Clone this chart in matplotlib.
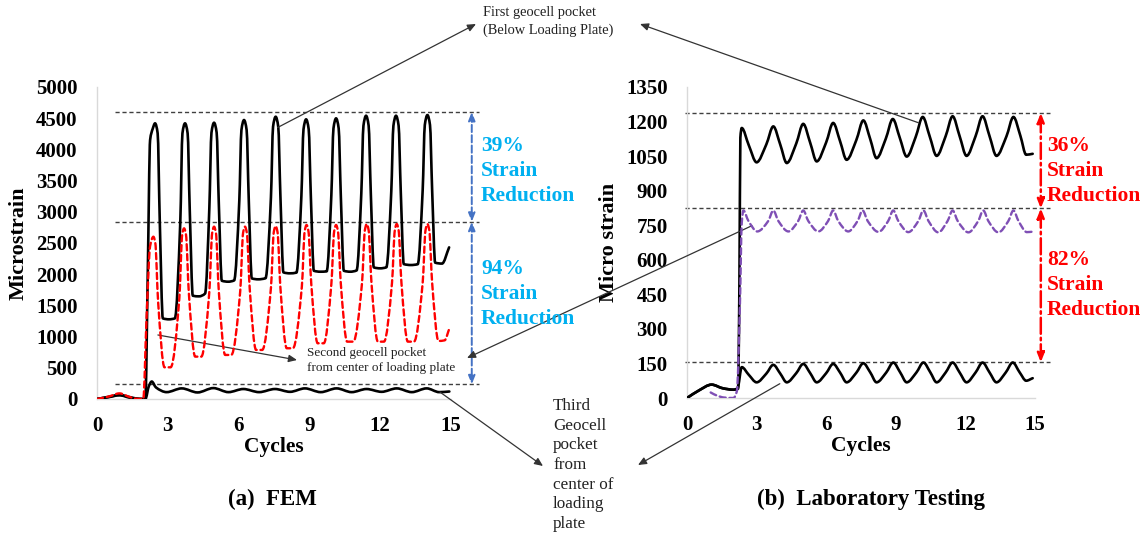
import numpy as np
import matplotlib
matplotlib.use("Agg")
import matplotlib.pyplot as plt
from matplotlib.path import Path
from matplotlib.patches import PathPatch

plt.rcParams['font.family'] = ['Liberation Serif', 'DejaVu Serif']

# ---------------- data ----------------
cycle_ticks = [0, 3, 6, 9, 12, 15]
fem_ticks = [0, 500, 1000, 1500, 2000, 2500, 3000, 3500, 4000, 4500, 5000]
lab_ticks = [0, 150, 300, 450, 600, 750, 900, 1050, 1200, 1350]

# FEM, first pocket (below loading plate) - black solid
fem_pocket1_x = [0, 0.5, 0.95, 1.45, 1.8, 2.05, 2.15, 2.25, 2.36,
                 2.46, 2.57, 2.66, 2.79, 3.05, 3.30, 3.53, 3.62,
                 3.73, 3.84, 3.93, 4.06, 4.32, 4.58, 4.76, 4.85,
                 4.96, 5.07, 5.16, 5.29, 5.56, 5.81, 6.03, 6.12,
                 6.23, 6.34, 6.43, 6.56, 6.83, 7.14, 7.37, 7.46,
                 7.57, 7.68, 7.77, 7.90, 8.17, 8.45, 8.66, 8.75,
                 8.86, 8.97, 9.06, 9.19, 9.46, 9.73, 9.93, 10.02,
                 10.13, 10.24, 10.33, 10.46, 10.73, 11.00, 11.20, 11.29,
                 11.40, 11.51, 11.60, 11.73, 12.00, 12.26, 12.47, 12.56,
                 12.67, 12.78, 12.87, 13.00, 13.30, 13.59, 13.80, 13.89,
                 14.00, 14.11, 14.20, 14.33, 14.62, 14.92]
fem_pocket1_y = [0, 35, 65, 25, 2, 0, 2000, 4150, 4330,
                 4418, 4258, 2850, 1292, 1277, 1292, 2850, 4258,
                 4418, 4258, 3030, 1655, 1645, 1690, 3060, 4268,
                 4428, 4268, 3150, 1895, 1880, 1900, 3180, 4311,
                 4471, 4311, 3200, 1933, 1918, 1935, 3230, 4364,
                 4524, 4364, 3270, 2029, 2014, 2025, 3250, 4322,
                 4482, 4322, 3260, 2055, 2040, 2045, 3270, 4338,
                 4498, 4338, 3270, 2055, 2040, 2060, 3300, 4380,
                 4540, 4380, 3320, 2109, 2094, 2110, 3330, 4380,
                 4540, 4380, 3340, 2162, 2147, 2160, 3350, 4391,
                 4551, 4391, 3360, 2185, 2170, 2430]

# FEM, second pocket - red dashed
fem_pocket2_x = [0, 0.5, 0.95, 1.4, 1.7, 1.96, 2.1, 2.25,
                 2.39, 2.47, 2.59, 2.86, 3.12, 3.49, 3.61,
                 3.69, 3.77, 3.89, 4.16, 4.42, 4.76, 4.88,
                 4.96, 5.04, 5.16, 5.43, 5.69, 6.07, 6.19,
                 6.27, 6.35, 6.47, 6.74, 7.00, 7.37, 7.49,
                 7.57, 7.65, 7.77, 8.04, 8.30, 8.68, 8.80,
                 8.88, 8.96, 9.08, 9.35, 9.61, 9.93, 10.05,
                 10.13, 10.21, 10.33, 10.60, 10.86, 11.23, 11.35,
                 11.43, 11.51, 11.63, 11.90, 12.16, 12.50, 12.62,
                 12.70, 12.78, 12.90, 13.17, 13.43, 13.80, 13.92,
                 14.00, 14.08, 14.20, 14.47, 14.73, 14.93]
fem_pocket2_y = [0, 40, 90, 30, 3, 0, 1300, 2450,
                 2601, 2501, 1555, 508, 508, 1622, 2635,
                 2735, 2635, 1707, 679, 679, 1721, 2662,
                 2762, 2662, 1734, 706, 706, 1734, 2662,
                 2762, 2662, 1774, 786, 786, 1780, 2673,
                 2773, 2673, 1793, 813, 813, 1801, 2689,
                 2789, 2689, 1841, 893, 893, 1841, 2689,
                 2789, 2689, 1854, 919, 919, 1862, 2705,
                 2805, 2705, 1862, 919, 919, 1862, 2705,
                 2805, 2705, 1862, 919, 919, 1862, 2705,
                 2805, 2705, 1868, 930, 940, 1130]

# FEM, third pocket - black solid
fem_pocket3_x = [0, 0.5, 0.95, 1.4, 1.75, 2.05, 2.2, 2.32, 2.5,
                 2.95, 3.59, 4.26, 4.93, 5.57, 6.20, 6.87, 7.54, 8.18,
                 8.81, 9.48, 10.15, 10.79, 11.42, 12.06, 12.70, 13.34,
                 13.97, 14.50, 14.93]
fem_pocket3_y = [0, 30, 60, 20, 2, 0, 210, 280, 185,
                 110, 170, 105, 175, 110, 160, 110, 160, 115,
                 170, 110, 170, 110, 160, 115, 170, 110,
                 170, 110, 120]

# Laboratory, first pocket - black solid
lab_pocket1_x = [0, 0.5, 1.06, 1.55, 2.0, 2.2, 2.26, 2.30,
                 2.36, 2.66, 3.00, 3.42,
                 3.72, 4.02, 4.30, 4.71,
                 5.01, 5.31, 5.59, 6.00,
                 6.30, 6.60, 6.88, 7.30,
                 7.60, 7.90, 8.17, 8.57,
                 8.87, 9.17, 9.47, 9.86,
                 10.16, 10.46, 10.76, 11.15,
                 11.45, 11.75, 12.05, 12.44,
                 12.74, 13.04, 13.34, 13.77,
                 14.07, 14.37, 14.62, 14.90]
lab_pocket1_y = [0, 32, 58, 42, 36, 40, 500, 1130,
                 1172, 1098, 1023, 1101,
                 1179, 1100, 1020, 1105,
                 1190, 1108, 1027, 1110,
                 1194, 1114, 1034, 1120,
                 1205, 1123, 1041, 1126,
                 1211, 1130, 1048, 1134,
                 1220, 1136, 1051, 1137,
                 1223, 1137, 1051, 1137,
                 1223, 1137, 1051, 1136,
                 1220, 1138, 1056, 1060]

# Laboratory, second pocket - purple dashed
lab_pocket2_x = [1.02, 1.3, 1.6, 2.0, 2.15, 2.28, 2.36,
                 2.43, 2.65, 3.03, 3.50,
                 3.72, 3.94, 4.37, 4.79,
                 5.01, 5.23, 5.66, 6.08,
                 6.30, 6.52, 6.95, 7.35,
                 7.57, 7.79, 8.25, 8.67,
                 8.89, 9.11, 9.54, 9.97,
                 10.19, 10.41, 10.83, 11.23,
                 11.45, 11.67, 12.13, 12.55,
                 12.77, 12.99, 13.42, 13.85,
                 14.07, 14.29, 14.65, 14.90]
lab_pocket2_y = [24, 10, 2, 0, 30, 400, 760,
                 814, 768, 723, 768,
                 814, 768, 723, 768,
                 814, 768, 723, 768,
                 814, 768, 723, 768,
                 814, 768, 721, 768,
                 814, 768, 720, 768,
                 814, 768, 719, 768,
                 814, 768, 719, 768,
                 814, 768, 719, 768,
                 814, 768, 720, 722]

# Laboratory, third pocket - black solid
lab_pocket3_x = [0, 0.5, 1.06, 1.55, 2.0, 2.18,
                 2.36, 2.66, 3.00, 3.42,
                 3.72, 4.02, 4.30, 4.71,
                 5.01, 5.31, 5.59, 6.00,
                 6.30, 6.60, 6.88, 7.30,
                 7.60, 7.90, 8.17, 8.59,
                 8.89, 9.19, 9.47, 9.89,
                 10.19, 10.49, 10.76, 11.15,
                 11.45, 11.75, 12.05, 12.44,
                 12.74, 13.04, 13.34, 13.74,
                 14.04, 14.34, 14.62, 14.90]
lab_pocket3_y = [0, 32, 58, 42, 36, 42,
                 134, 101, 68, 106,
                 144, 106, 68, 108,
                 148, 108, 68, 108,
                 148, 110, 68, 110,
                 151, 111, 68, 111,
                 154, 111, 68, 111,
                 154, 111, 68, 111,
                 154, 111, 68, 111,
                 154, 111, 68, 111,
                 154, 111, 75, 86]

# peak levels marked by the dashed guide lines
fem_levels = [4600, 2840, 235]
lab_levels = [1237, 823, 155]
fem_reduction = ['39%', '94%']
lab_reduction = ['36%', '82%']

W, H = 1148, 536


def fpos(px, py):
    """pixel position in the figure -> figure fraction"""
    return (px / W, 1 - py / H)


def smooth_path(x, y):
    """monotone cubic curve through the points, as bezier segments"""
    x = np.asarray(x, float)
    y = np.asarray(y, float)
    h = np.diff(x)
    d = np.diff(y) / h
    m = np.zeros_like(y)
    m[0], m[-1] = d[0], d[-1]
    for k in range(1, len(x) - 1):
        if d[k - 1] * d[k] > 0:
            w1 = 2 * h[k] + h[k - 1]
            w2 = h[k] + 2 * h[k - 1]
            m[k] = (w1 + w2) / (w1 / d[k - 1] + w2 / d[k])
    verts = [(x[0], y[0])]
    codes = [Path.MOVETO]
    for k in range(len(h)):
        verts += [(x[k] + h[k] / 3, y[k] + m[k] * h[k] / 3),
                  (x[k + 1] - h[k] / 3, y[k + 1] - m[k + 1] * h[k] / 3),
                  (x[k + 1], y[k + 1])]
        codes += [Path.CURVE4] * 3
    return Path(verts, codes)


def draw_curve(ax, x, y, **kw):
    patch = PathPatch(smooth_path(x, y), transform=ax.transData,
                      fill=False, capstyle='round', joinstyle='round', **kw)
    ax.add_patch(patch)


def style_axes(ax, yticks, ylabel):
    ax.set_xlim(0, 15)
    ax.set_ylim(yticks[0], yticks[-1])
    ax.set_xticks(cycle_ticks)
    ax.set_yticks(yticks)
    for s in ['top', 'right']:
        ax.spines[s].set_visible(False)
    for s in ['left', 'bottom']:
        ax.spines[s].set_color('#D9D9D9')
        ax.spines[s].set_linewidth(1.0)
    ax.tick_params(axis='both', length=0, labelsize=15)
    ax.tick_params(axis='y', pad=14)
    ax.tick_params(axis='x', pad=12)
    for lab in ax.get_xticklabels() + ax.get_yticklabels():
        lab.set_fontweight('bold')
    ax.set_xlabel('Cycles', fontsize=15.5, fontweight='bold', labelpad=1)
    ax.set_ylabel(ylabel, fontsize=16, fontweight='bold', labelpad=5)


fig = plt.figure(figsize=(11.48, 5.36), dpi=100)
ax1 = fig.add_axes([97 / W, 1 - 399 / H, 354 / W, 312 / H])
ax2 = fig.add_axes([687 / W, 1 - 398 / H, 348 / W, 311 / H])

# curves
draw_curve(ax1, fem_pocket1_x, fem_pocket1_y, color='black', lw=1.9, zorder=3)
draw_curve(ax1, fem_pocket3_x, fem_pocket3_y, color='black', lw=1.9, zorder=3)
draw_curve(ax1, fem_pocket2_x, fem_pocket2_y, color='#FF0000', lw=1.7,
           linestyle=(0, (2.6, 1.6)), zorder=4)

draw_curve(ax2, lab_pocket1_x, lab_pocket1_y, color='black', lw=1.9, zorder=3)
draw_curve(ax2, lab_pocket3_x, lab_pocket3_y, color='black', lw=1.9, zorder=3)
draw_curve(ax2, lab_pocket2_x, lab_pocket2_y, color='#7F4FB5', lw=1.7,
           linestyle=(0, (2.6, 1.6)), zorder=4)

style_axes(ax1, fem_ticks, 'Microstrain')
style_axes(ax2, lab_ticks, 'Micro strain')

# dashed guide lines at the peak levels
for lvl in fem_levels:
    ax1.plot([0.76, 16.2], [lvl, lvl], color='#404040', lw=1.0,
             linestyle=(0, (3, 2)), clip_on=False, zorder=2)
for lvl in lab_levels:
    ax2.plot([-0.1, 15.65], [lvl, lvl], color='#404040', lw=1.0,
             linestyle=(0, (3, 2)), clip_on=False, zorder=2)

# double headed reduction arrows
for a, b in zip(fem_levels[:-1], fem_levels[1:]):
    ax1.annotate('', xy=(15.88, b), xytext=(15.88, a), annotation_clip=False,
                 arrowprops=dict(arrowstyle='<|-|>,head_length=0.5,head_width=0.2',
                                 color='#4472C4', lw=1.4, linestyle='--',
                                 shrinkA=0, shrinkB=0))
for a, b in zip(lab_levels[:-1], lab_levels[1:]):
    ax2.annotate('', xy=(15.25, b), xytext=(15.25, a), annotation_clip=False,
                 arrowprops=dict(arrowstyle='<|-|>,head_length=0.55,head_width=0.22',
                                 color='#FF0000', lw=1.8, linestyle='-.',
                                 shrinkA=0, shrinkB=0))

fem_text_y = [171, 294]
lab_text_y = [171, 285]
for pct, ty in zip(fem_reduction, fem_text_y):
    fig.text(*fpos(481, ty), pct + '\nStrain\nReduction', color='#00B0F0',
             fontsize=15.5, fontweight='bold', ha='left', va='center',
             linespacing=1.36)
for pct, ty in zip(lab_reduction, lab_text_y):
    fig.text(*fpos(1047, ty), pct + '\nStrain\nReduction', color='#FF0000',
             fontsize=15.5, fontweight='bold', ha='left', va='center',
             linespacing=1.36)

# call-out notes with pointer arrows
arrow_kw = dict(arrowstyle='-|>,head_length=0.5,head_width=0.22', color='#333333',
                lw=0.9, shrinkA=0, shrinkB=0)

fig.text(*fpos(483, 6), 'First geocell pocket\n(Below Loading Plate)',
         fontsize=10.4, ha='left', va='top', color='#222222', linespacing=1.4)
ax1.annotate('', xy=fpos(476, 24), xycoords='figure fraction',
             xytext=(7.65, 4350), textcoords='data', arrowprops=arrow_kw,
             annotation_clip=False)
ax2.annotate('', xy=fpos(640, 24), xycoords='figure fraction',
             xytext=(9.97, 1195), textcoords='data', arrowprops=arrow_kw,
             annotation_clip=False)

fig.text(*fpos(307, 360.5), 'Second geocell pocket\nfrom center of loading plate',
         fontsize=9.5, ha='left', va='center', color='#222222', linespacing=1.3)
ax1.annotate('', xy=fpos(297, 360), xycoords='figure fraction',
             xytext=(2.58, 1026), textcoords='data', arrowprops=arrow_kw,
             annotation_clip=False)
ax2.annotate('', xy=fpos(467, 358), xycoords='figure fraction',
             xytext=(2.8, 748), textcoords='data', arrowprops=arrow_kw,
             annotation_clip=False)

fig.text(*fpos(553, 465), 'Third\nGeocell\npocket\nfrom\ncenter of\nloading\nplate',
         fontsize=12.3, ha='left', va='center', color='#222222', linespacing=1.3)
ax1.annotate('', xy=fpos(543, 466), xycoords='figure fraction',
             xytext=(14.53, 112), textcoords='data', arrowprops=arrow_kw,
             annotation_clip=False)
ax2.annotate('', xy=fpos(638, 465), xycoords='figure fraction',
             xytext=(4.0, 62), textcoords='data', arrowprops=arrow_kw,
             annotation_clip=False)

# panel captions
fig.text(*fpos(272, 499), '(a)  FEM', fontsize=16.5, fontweight='bold',
         ha='center', va='center')
fig.text(*fpos(871, 499), '(b)  Laboratory Testing', fontsize=16.5,
         fontweight='bold', ha='center', va='center')

fig.savefig('out.png', dpi=100)
